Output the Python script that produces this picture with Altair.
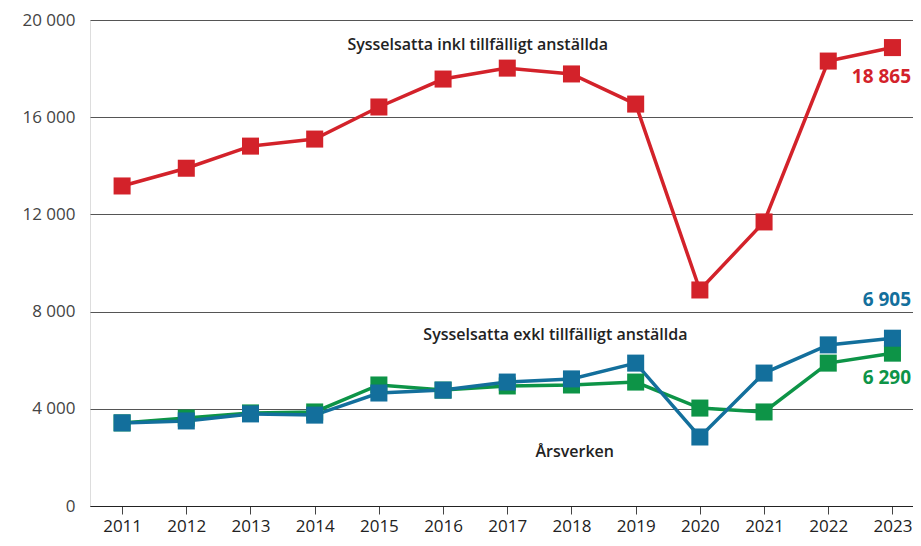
import altair as alt
import pandas as pd

years = list(range(2011, 2024))
inkl = [13170, 13900, 14810, 15100, 16420, 17570, 18020, 17780, 16540, 8890, 11690, 18310, 18865]
exkl = [3420, 3500, 3790, 3740, 4650, 4770, 5100, 5230, 5880, 2840, 5470, 6630, 6905]
arsverken = [3420, 3620, 3830, 3870, 4980, 4770, 4940, 4980, 5100, 4030, 3870, 5880, 6290]

series_names = ["Sysselsatta inkl tillfälligt anställda", "Årsverken", "Sysselsatta exkl tillfälligt anställda"]
series_colors = ["#d3222a", "#0d9447", "#136f9c"]

rows = []
for name, vals in zip(series_names, [inkl, arsverken, exkl]):
    for yr, v in zip(years, vals):
        rows.append({"year": yr, "value": v, "series": name})
df = pd.DataFrame(rows)

ann_text = ["Sysselsatta inkl tillfälligt anställda", "Sysselsatta exkl tillfälligt anställda", "Årsverken"]
ann_x = [2016.54, 2017.75, 2018.05]
ann_y = [18970, 7037, 2222]
ann = pd.DataFrame({"text": ann_text, "x": ann_x, "y": ann_y})

end_text = ["18 865", "6 905", "6 290"]
end_x = [2023.29, 2023.29, 2023.29]
end_y = [17654, 8477, 5267]
end_color = ["#d3222a", "#136f9c", "#0d9447"]
endd = pd.DataFrame({"text": end_text, "x": end_x, "y": end_y, "c": end_color})

FONT = "Open Sans"

xscale = alt.Scale(domain=[2010.5, 2023.32], nice=False, zero=False)
yscale = alt.Scale(domain=[0, 20000], nice=False)

base = alt.Chart(df).encode(
    x=alt.X("year:Q", scale=xscale,
            axis=alt.Axis(values=years, format="d", title=None, grid=False,
                          domain=True, domainColor="#222", domainWidth=1.2,
                          ticks=True, tickColor="#444", tickSize=8, tickWidth=1,
                          labelFont=FONT, labelFontSize=17, labelColor="#222",
                          labelPadding=4)),
    y=alt.Y("value:Q", scale=yscale,
            axis=alt.Axis(values=[0, 4000, 8000, 12000, 16000, 20000], title=None,
                          grid=True, gridColor="#555", gridWidth=1,
                          domain=False, ticks=False,
                          labelExpr="replace(format(datum.value, ',d'), ',', ' ')",
                          labelFont=FONT, labelFontSize=17, labelColor="#444",
                          labelPadding=15)),
    color=alt.Color("series:N", scale=alt.Scale(domain=series_names, range=series_colors), legend=None),
    detail="series:N",
)

lines = base.mark_line(strokeWidth=3.5)
points = base.mark_point(shape="square", filled=True, size=290, opacity=1)

labels = alt.Chart(ann).mark_text(font=FONT, fontSize=16, fontWeight=600, color="#222").encode(
    x=alt.X("x:Q", scale=xscale), y=alt.Y("y:Q", scale=yscale), text="text:N")

ends = alt.Chart(endd).mark_text(font=FONT, fontSize=19, fontWeight="bold", align="right").encode(
    x=alt.X("x:Q", scale=xscale), y=alt.Y("y:Q", scale=yscale), text="text:N",
    color=alt.Color("c:N", scale=None))

chart = alt.layer(lines, points, labels, ends).properties(
    width=823, height=486,
    autosize=alt.AutoSizeParams(type="none"),
    padding={"left": 82, "top": 12, "right": 0, "bottom": 30},
).configure_view(stroke=None).configure(background="white")

chart.save("out.html", embed_options={"renderer": "svg", "actions": False})
